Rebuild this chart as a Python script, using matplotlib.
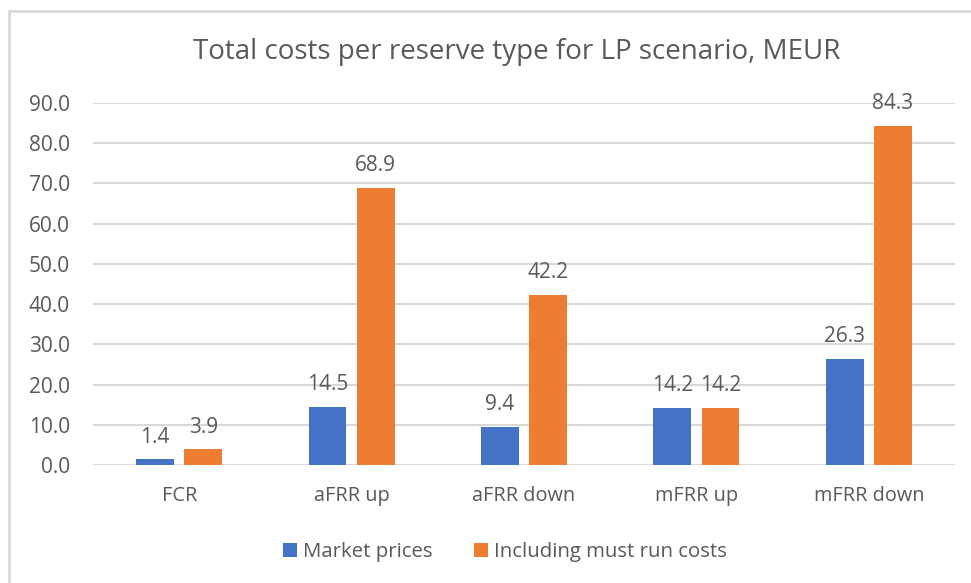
import numpy as np
import matplotlib.pyplot as plt
from matplotlib.patches import Rectangle

categories = ["FCR", "aFRR up", "aFRR down", "mFRR up", "mFRR down"]
market = [1.4, 14.5, 9.4, 14.2, 26.3]
must_run = [3.9, 68.9, 42.2, 14.2, 84.3]
yticks = [0, 10, 20, 30, 40, 50, 60, 70, 80, 90]

plt.rcParams['font.family'] = ['Open Sans', 'DejaVu Sans']
txt = '#595959'

fig = plt.figure(figsize=(9.71, 5.83), dpi=100)
ax = fig.add_axes([0.0958, 0.2024, 0.8877, 0.6209])

# light frame like the excel chart area
fig.patches.append(Rectangle((9 / 971, -0.1), 1.2, 1 - 11 / 583 + 0.1,
                             transform=fig.transFigure, fill=False,
                             edgecolor='#d9d9d9', lw=2))

x = np.arange(len(categories))
w = 0.22
b1 = ax.bar(x - 0.14, market, w, color='#4472C4', label='Market prices', zorder=3)
b2 = ax.bar(x + 0.14, must_run, w, color='#ED7D31', label='Including must run costs', zorder=3)

for bars in (b1, b2):
    for r in bars:
        ax.annotate(f"{r.get_height():.1f}", (r.get_x() + r.get_width() / 2, r.get_height()),
                    xytext=(0, 8.5), textcoords='offset points', ha='center', va='bottom',
                    fontsize=15, color=txt)

ax.set_xlim(-0.5, 4.5)
ax.set_ylim(0, 90)
ax.set_yticks(yticks)
ax.set_yticklabels([f"{v:.1f}" for v in yticks])
ax.set_xticks(x)
ax.set_xticklabels(categories)
ax.tick_params(axis='both', length=0, labelsize=15, labelcolor=txt)
ax.tick_params(axis='x', labelsize=14.3, pad=15)
ax.tick_params(axis='y', pad=16.5)
ax.grid(axis='y', color='#d9d9d9', lw=1.5, zorder=0)
for s in ax.spines.values():
    s.set_visible(False)

fig.text(0.532, 0.91, "Total costs per reserve type for LP scenario, MEUR",
         ha='center', va='center', fontsize=20, color=txt)

fig.legend(loc='center', bbox_to_anchor=(0.52, 0.053), ncol=2, frameon=False,
           fontsize=14.7, labelcolor=txt, handlelength=0.7, handleheight=0.7,
           handletextpad=0.3, columnspacing=2.0)

fig.savefig('out.png', dpi=100)
